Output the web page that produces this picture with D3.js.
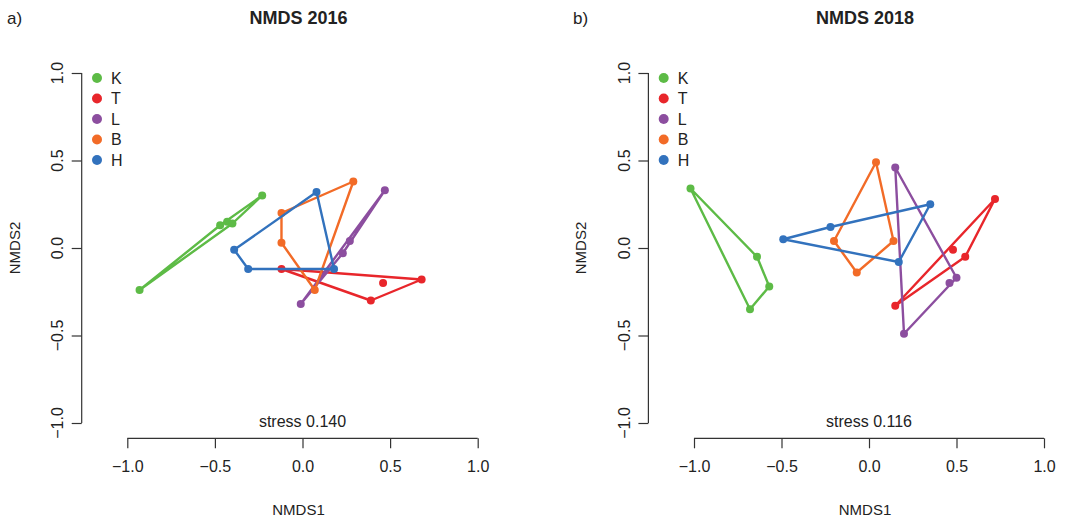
<!DOCTYPE html>
<html>
<head>
<meta charset="utf-8">
<script src="https://cdn.jsdelivr.net/npm/d3@7"></script>
<style>
  html, body { margin: 0; padding: 0; background: #fff; }
  svg { display: block; font-family: "Liberation Sans", Arial, sans-serif; }
</style>
</head>
<body>
<svg id="chart" width="1065" height="520"></svg>
<script>
// groups and colours
const groups = ["K", "T", "L", "B", "H"];
const groupColors = ["#5DBB46", "#E8262B", "#8C4E9F", "#F26B27", "#3272BD"];
const ticks = [-1.0, -0.5, 0.0, 0.5, 1.0];

// NMDS 2016 site scores, per group
const k2016x = [-0.93, -0.47, -0.43, -0.40, -0.23];
const k2016y = [-0.24, 0.13, 0.15, 0.14, 0.30];
const t2016x = [-0.12, 0.68, 0.46, 0.39];
const t2016y = [-0.12, -0.18, -0.20, -0.30];
const l2016x = [0.47, 0.27, 0.23, -0.01];
const l2016y = [0.33, 0.04, -0.03, -0.32];
const b2016x = [0.29, -0.12, -0.12, 0.07];
const b2016y = [0.38, 0.20, 0.03, -0.24];
const h2016x = [0.08, -0.39, -0.31, 0.18];
const h2016y = [0.32, -0.01, -0.12, -0.12];

// NMDS 2018 site scores, per group
const k2018x = [-1.02, -0.64, -0.57, -0.68];
const k2018y = [0.34, -0.05, -0.22, -0.35];
const t2018x = [0.72, 0.48, 0.55, 0.15];
const t2018y = [0.28, -0.01, -0.05, -0.33];
const l2018x = [0.15, 0.50, 0.46, 0.20];
const l2018y = [0.46, -0.17, -0.20, -0.49];
const b2018x = [0.04, -0.20, -0.07, 0.14];
const b2018y = [0.49, 0.04, -0.14, 0.04];
const h2018x = [-0.49, -0.22, 0.35, 0.17];
const h2018y = [0.05, 0.12, 0.25, -0.08];

const stress2016 = "0.140";
const stress2018 = "0.116";

const zip = (xs, ys) => xs.map((x, i) => [x, ys[i]]);

const panels = [
    {
        tag: "a)", title: "NMDS 2016", stress: stress2016,
        left: 0, plotX0: 127.3, plotX1: 477.7,
        sets: [zip(k2016x, k2016y), zip(t2016x, t2016y), zip(l2016x, l2016y), zip(b2016x, b2016y), zip(h2016x, h2016y)]
    },
    {
        tag: "b)", title: "NMDS 2018", stress: stress2018,
        left: 566, plotX0: 694, plotX1: 1044,
        sets: [zip(k2018x, k2018y), zip(t2018x, t2018y), zip(l2018x, l2018y), zip(b2018x, b2018y), zip(h2018x, h2018y)]
    }
];

const svg = d3.select("#chart");
const axisColor = "#333";
const textColor = "#222";

function renderPanel(p) {
    const g = svg.append("g");
    const x = d3.scaleLinear().domain([-1, 1]).range([p.plotX0, p.plotX1]);
    const y = d3.scaleLinear().domain([-1, 1]).range([423, 73]);
    const yAxisX = p.plotX0 - 45.6;
    const xAxisY = 438.3;

    g.append("text")
        .attr("x", p.left + 7).attr("y", 24)
        .attr("font-size", 17).attr("fill", textColor)
        .text(p.tag);

    g.append("text")
        .attr("x", x(0) - 4).attr("y", 24)
        .attr("text-anchor", "middle")
        .attr("font-size", 18).attr("font-weight", "bold").attr("fill", textColor)
        .text(p.title);

    // x axis (R style: line between outer ticks, ticks pointing down)
    const xAxis = g.append("g").attr("transform", `translate(0,${xAxisY})`)
        .call(d3.axisBottom(x).tickValues(ticks).tickSize(10).tickSizeOuter(0).tickPadding(12)
            .tickFormat(d3.format(".1f")));
    xAxis.select(".domain").attr("stroke", axisColor).attr("stroke-width", 1.2)
        .attr("d", `M${x(-1)},0H${x(1)}`);
    xAxis.selectAll(".tick line").attr("stroke", axisColor).attr("stroke-width", 1.2);
    xAxis.selectAll(".tick text").attr("font-size", 16).attr("fill", textColor)
        .attr("font-family", "Liberation Sans, Arial, sans-serif");

    // y axis with vertical labels
    const yAxis = g.append("g").attr("transform", `translate(${yAxisX},0)`)
        .call(d3.axisLeft(y).tickValues(ticks).tickSize(10).tickSizeOuter(0).tickFormat(""));
    yAxis.select(".domain").attr("stroke", axisColor).attr("stroke-width", 1.2)
        .attr("d", `M0,${y(1)}V${y(-1)}`);
    yAxis.selectAll(".tick line").attr("stroke", axisColor).attr("stroke-width", 1.2);
    g.selectAll(".ylab").data(ticks).join("text")
        .attr("transform", (d) => `translate(${yAxisX - 24},${y(d)}) rotate(-90)`)
        .attr("text-anchor", "middle").attr("dy", "0.35em")
        .attr("font-size", 16).attr("fill", textColor)
        .text(d3.format(".1f"));

    g.append("text")
        .attr("x", x(0) - 4).attr("y", 515)
        .attr("text-anchor", "middle").attr("font-size", 15).attr("fill", textColor)
        .text("NMDS1");
    g.append("text")
        .attr("transform", `translate(${p.left + 20},248) rotate(-90)`)
        .attr("text-anchor", "middle").attr("font-size", 15).attr("fill", textColor)
        .text("NMDS2");

    g.append("text")
        .attr("x", x(0)).attr("y", 427)
        .attr("text-anchor", "middle").attr("font-size", 16).attr("fill", textColor)
        .text("stress " + p.stress);

    // hulls then points, per group
    p.sets.forEach((pts, i) => {
        const color = groupColors[i];
        const hull = d3.polygonHull(pts);
        g.append("path")
            .attr("d", d3.line().x((d) => x(d[0])).y((d) => y(d[1])).curve(d3.curveLinearClosed)(hull))
            .attr("fill", "none").attr("stroke", color)
            .attr("stroke-width", 2.4).attr("stroke-linejoin", "round");
        g.selectAll(null).data(pts).join("circle")
            .attr("cx", (d) => x(d[0])).attr("cy", (d) => y(d[1]))
            .attr("r", 4).attr("fill", color);
    });

    // legend
    const legX = yAxisX + 15.3;
    const leg = g.selectAll(".leg").data(groups).join("g")
        .attr("transform", (d, i) => `translate(${legX},${78 + i * 20.5})`);
    leg.append("circle").attr("r", 5).attr("fill", (d, i) => groupColors[i]);
    leg.append("text").attr("x", 14).attr("dy", "0.36em")
        .attr("font-size", 16).attr("fill", textColor)
        .text((d) => d);
}

panels.forEach(renderPanel);
</script>
</body>
</html>
